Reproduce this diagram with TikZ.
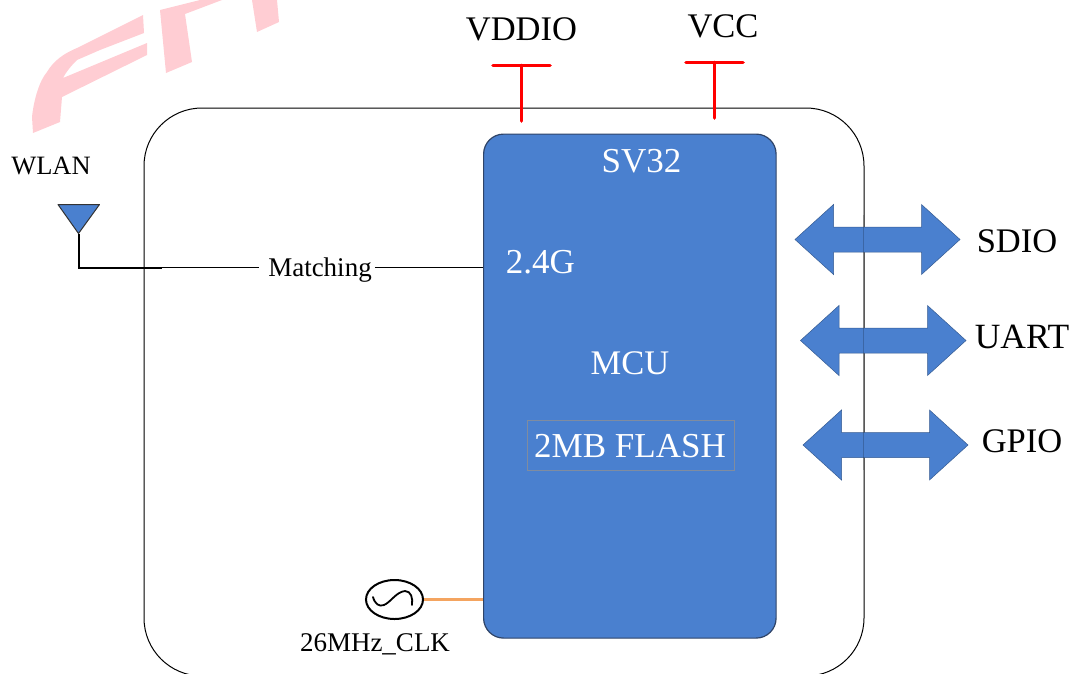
\documentclass[tikz,border=0pt]{standalone}
\usepackage{fontspec}
\usetikzlibrary{shapes.geometric}
\setmainfont{Liberation Serif}
\definecolor{chipblue}{HTML}{4A80CF}
\definecolor{chipedge}{HTML}{2F4468}
\definecolor{wmpink}{HTML}{FFCDD3}
\definecolor{clkorange}{HTML}{F4A460}
\definecolor{flashedge}{HTML}{7F8CA0}
\newcommand{\fsz}[1]{\fontsize{#1}{#1}\selectfont}
\tikzset{
  lbl/.style={inner sep=0pt,text=black,anchor=base},
  whitelbl/.style={inner sep=0pt,text=white,anchor=base},
  busarrow/.style={fill=chipblue,draw=chipblue!70!black,line width=0.5pt},
  rail/.style={draw=red,line width=3.6pt,line cap=round},
  thinwire/.style={draw=black,line width=1pt},
  thickwire/.style={draw=black,line width=2pt},
}
\begin{document}
\begin{tikzpicture}[x=1pt,y=-1pt]
\useasboundingbox (0,0) rectangle (1071,673);
\clip (0,0) rectangle (1071,673);
% watermark
\fill[wmpink] (33,133) -- (32,117) .. controls (34,98) and (40,80) .. (47,72)
  .. controls (54,60) and (65,53) .. (77,48)
  -- (143,15) -- (144,33) -- (100,50) -- (77,60) .. controls (71,66) and (66,72) .. (63,78)
  -- (147,43) -- (147,55) -- (62,97) -- (60,122) -- cycle;
\fill[wmpink] (200,0) -- (160,10) -- (166,73) -- (192,62) -- (185,14) -- (222,0) -- cycle;
\fill[wmpink] (252,0) -- (257,32) -- (279,22) -- (277,0) -- cycle;
% module outline
\node[draw=black,line width=1pt,rounded corners=58pt,minimum width=720pt,minimum height=568pt,inner sep=0pt,anchor=north west] (module) at (143.5,107.5) {};
% chip
\node[draw=chipedge,fill=chipblue,line width=1.2pt,rounded corners=20pt,minimum width=292.5pt,minimum height=504pt,inner sep=0pt,anchor=north west] (chip) at (483,133.5) {};
\node[draw=flashedge,line width=1pt,minimum width=207pt,minimum height=50pt,inner sep=0pt,anchor=north west] (flash) at (526.5,419.5) {};
\node[whitelbl,font=\fsz{35}] (sv) at (641.5,172) {SV32};
\node[whitelbl,font=\fsz{35}] (rf) at (540.5,273) {2.4G};
\node[whitelbl,font=\fsz{34.5}] (mcu) at (630,374) {MCU};
\node[whitelbl,font=\fsz{35}] (flashtxt) at (630,457) {2MB FLASH};
% power rails
\coordinate (vddL) at (493,65.5); \coordinate (vddR) at (550,65.5);
\coordinate (vddT) at (521.5,65.5); \coordinate (vddB) at (521.5,121);
\coordinate (vccL) at (686,62.5); \coordinate (vccR) at (743,62.5);
\coordinate (vccT) at (714.5,62.5); \coordinate (vccB) at (714.5,118);
\draw[rail] (vddL) -- (vddR); \draw[rail] (vddT) -- (vddB);
\draw[rail] (vccL) -- (vccR); \draw[rail] (vccT) -- (vccB);
\node[lbl,font=\fsz{34.5}] (vddio) at (521.5,40) {VDDIO};
\node[lbl,font=\fsz{34.5}] (vcc) at (723,37) {VCC};
% antenna
\node[lbl,font=\fsz{26.5}] (wlan) at (51,174) {WLAN};
\coordinate (antTip) at (78.5,233.5);
\draw[draw=black!80,fill=chipblue,line width=1pt,line join=round] (58,204.5) -- (99.5,204.5) -- (antTip) -- cycle;
\node[lbl,font=\fsz{27}] (match) at (320,276) {Matching};
\coordinate (antElbow) at (78.5,267.5);
\coordinate (thickEnd) at (162,267.5);
\draw[thickwire,line join=miter] (antTip) -- (antElbow) -- (thickEnd);
\draw[thinwire] (thickEnd) -- ([xshift=-9pt]match.west |- thickEnd);
\draw[thinwire] ([xshift=3pt]match.east |- thickEnd) -- (chip.west |- thickEnd);
% clock
\node[draw=black,line width=2pt,ellipse,minimum width=57pt,minimum height=39pt,inner sep=0pt] (osc) at (394.5,599.5) {};
\draw[black,line width=1.8pt,line cap=round] (373,597) .. controls (375,604) and (379,607) .. (384,605) .. controls (391,602) and (396,592) .. (405,591) .. controls (411,591) and (413,598) .. (412,605);
\draw[draw=clkorange,line width=3.4pt] (osc.east) -- (chip.west |- osc.east);
\node[lbl,font=\fsz{27}] (clk) at (375,651) {26MHz\_CLK};
% bus arrows
\newcommand{\busarr}[3]{%
 \path[busarrow] ({#1},{#3}) -- ({#1+38.5},{#3-35}) -- ({#1+38.5},{#3-12.5}) -- ({#2-38.5},{#3-12.5}) -- ({#2-38.5},{#3-35}) -- ({#2},{#3})
   -- ({#2-38.5},{#3+35}) -- ({#2-38.5},{#3+12.5}) -- ({#1+38.5},{#3+12.5}) -- ({#1+38.5},{#3+35}) -- cycle;}
\busarr{795}{960}{239.5}
\busarr{800.5}{966}{340.5}
\busarr{803}{968}{445}
% module edge showing faintly through the arrows
\draw[black,line width=1pt,opacity=0.2] (863.5,215) -- (863.5,470);
\node[lbl,font=\fsz{34.5}] (sdio) at (1017,252) {SDIO};
\node[lbl,font=\fsz{35.5}] (uart) at (1022,348) {UART};
\node[lbl,font=\fsz{34.5}] (gpio) at (1022,452) {GPIO};
\end{tikzpicture}
\end{document}
